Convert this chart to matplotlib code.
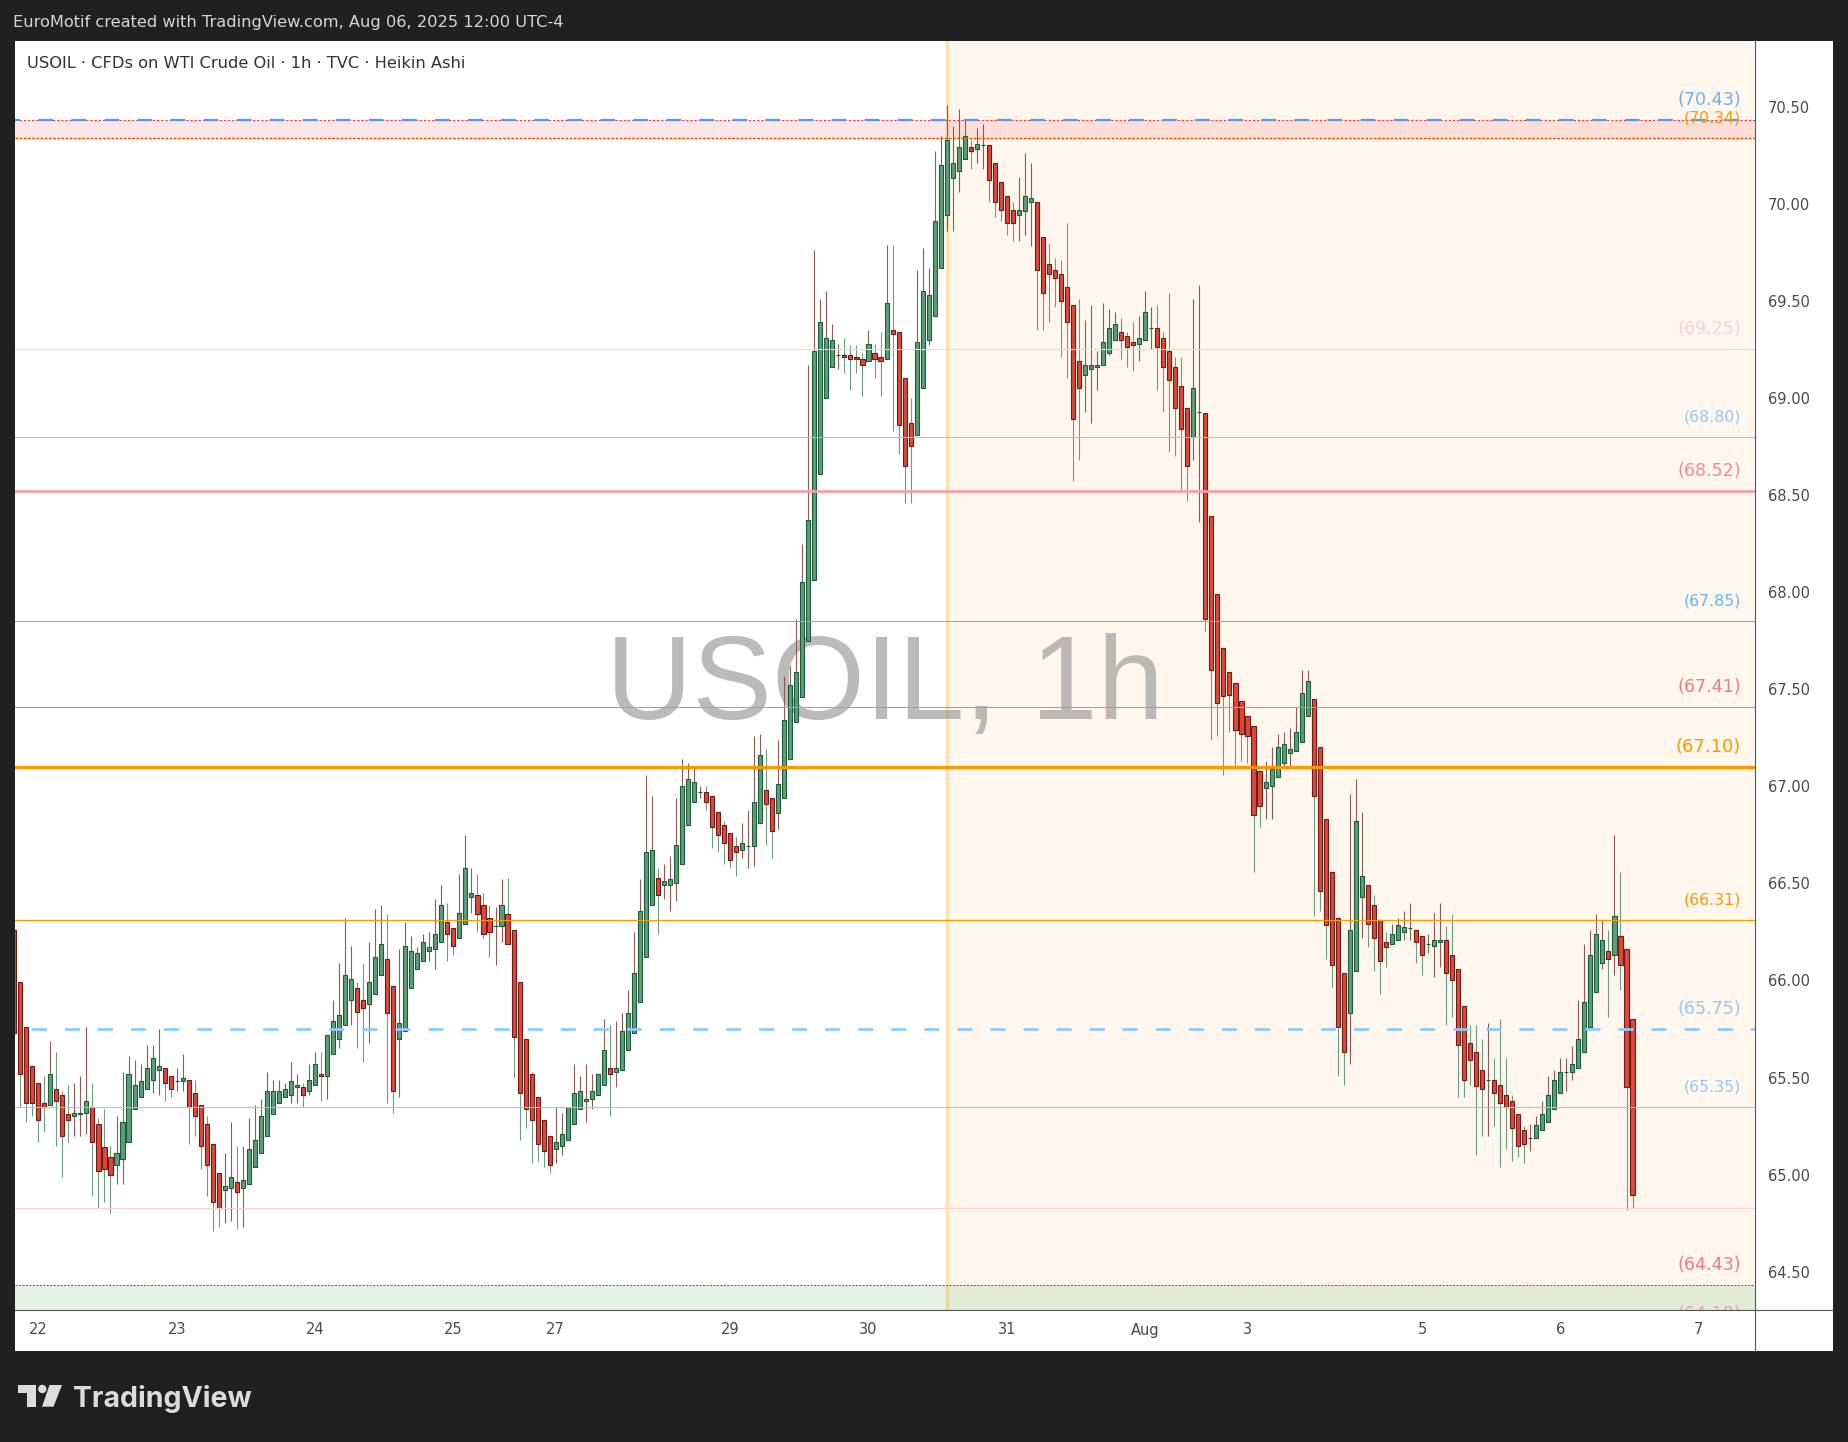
import numpy as np
import pandas as pd
import matplotlib
matplotlib.use("Agg")
import matplotlib.pyplot as plt
from matplotlib.patches import Rectangle, Polygon, Ellipse
from matplotlib.lines import Line2D
import matplotlib.transforms as mtransforms

plt.rcParams['font.family'] = ['DejaVu Sans']
plt.rcParams['lines.scale_dashes'] = False

# USOIL 1h Heikin Ashi candles, first bar 21 Jul 20:00 (UTC-4), last bar 6 Aug 12:00
opens = [
    66.26, 65.99, 65.76, 65.56,
    65.47, 65.37, 65.36, 65.44, 65.41, 65.31, 65.30, 65.31, 65.32, 65.35,
    65.26, 65.14, 65.09, 65.05, 65.08, 65.17, 65.34, 65.40, 65.44, 65.49,
    65.54, 65.55, 65.51, 65.48, 65.48, 65.49, 65.42, 65.36, 65.26, 65.16,
    65.01, 64.92, 64.93, 64.96, 64.93, 64.95, 65.04, 65.11, 65.20, 65.31,
    65.37, 65.40, 65.41, 65.45, 65.45, 65.43, 65.46, 65.52, 65.51, 65.62,
    65.70, 65.77, 65.90, 65.96, 65.90, 65.88, 65.93, 66.03, 66.11, 65.97,
    65.70, 65.74, 65.96, 66.06, 66.10, 66.15, 66.16, 66.20, 66.30, 66.27,
    66.22, 66.29, 66.43, 66.44, 66.39, 66.32, 66.28, 66.28, 66.34, 66.26,
    65.99, 65.70, 65.52, 65.40, 65.28, 65.20, 65.13, 65.15, 65.18, 65.26,
    65.34, 65.38, 65.39, 65.41, 65.46, 65.55, 65.53, 65.54, 65.64, 65.73,
    65.89, 66.12, 66.39, 66.53, 66.49, 66.49, 66.50, 66.60, 66.80, 66.92,
    66.97, 66.97, 66.95, 66.87, 66.80, 66.76, 66.69, 66.67, 66.69, 66.69,
    66.81, 66.98, 66.94, 66.86, 66.94, 67.14, 67.33, 67.46, 67.75, 68.06,
    68.61, 69.00, 69.16, 69.22, 69.22, 69.22, 69.21, 69.20, 69.19, 69.23,
    69.21, 69.20, 69.35, 69.34, 69.10, 68.87, 68.81, 69.05, 69.30, 69.42,
    69.67, 69.94, 70.13, 70.17, 70.23, 70.29, 70.28, 70.30, 70.30, 70.21,
    70.11, 70.04, 69.97, 69.94, 69.96, 70.01, 70.01, 69.83, 69.69, 69.66,
    69.64, 69.57, 69.48, 69.19, 69.12, 69.15, 69.16, 69.17, 69.23, 69.30,
    69.34, 69.32, 69.29, 69.28, 69.30, 69.36, 69.36, 69.31, 69.24, 69.16,
    69.06, 68.95, 68.80, 68.93, 68.92, 68.39, 67.99, 67.71, 67.59, 67.53,
    67.44, 67.36, 67.31, 67.08, 66.99, 67.00, 67.05, 67.12, 67.17, 67.18,
    67.23, 67.36, 67.45, 67.20, 66.83, 66.56, 66.32, 66.04, 65.83, 66.05,
    66.43, 66.49, 66.39, 66.31, 66.20, 66.19, 66.21, 66.25, 66.27, 66.26,
    66.23, 66.19, 66.18, 66.20, 66.21, 66.13, 66.06, 65.87, 65.68, 65.63,
    65.54, 65.49, 65.49, 65.46, 65.41, 65.38, 65.31, 65.23, 65.19, 65.19,
    65.23, 65.27, 65.34, 65.42, 65.53, 65.53, 65.55, 65.63, 65.76, 65.94,
    66.09, 66.15, 66.13, 66.23, 66.16, 65.80,
]
highs = [
    66.30, 65.99, 65.76, 65.56,
    65.47, 65.51, 65.69, 65.63, 65.43, 65.46, 65.47, 65.51, 65.76, 65.47,
    65.29, 65.34, 65.15, 65.30, 65.53, 65.61, 65.59, 65.57, 65.67, 65.67,
    65.75, 65.55, 65.51, 65.55, 65.62, 65.49, 65.49, 65.36, 65.30, 65.16,
    65.01, 65.11, 65.27, 65.15, 65.15, 65.29, 65.36, 65.39, 65.53, 65.49,
    65.49, 65.47, 65.58, 65.52, 65.47, 65.57, 65.63, 65.63, 65.72, 65.90,
    66.09, 66.32, 66.18, 65.99, 66.09, 66.20, 66.37, 66.39, 66.34, 65.97,
    66.16, 66.30, 66.23, 66.17, 66.24, 66.25, 66.42, 66.49, 66.40, 66.27,
    66.55, 66.75, 66.58, 66.55, 66.45, 66.39, 66.38, 66.52, 66.53, 66.26,
    65.99, 65.70, 65.53, 65.40, 65.28, 65.20, 65.35, 65.32, 65.35, 65.57,
    65.51, 65.57, 65.52, 65.52, 65.80, 65.77, 65.79, 65.83, 65.95, 66.25,
    66.52, 67.06, 66.95, 66.58, 66.60, 66.64, 66.94, 67.14, 67.12, 67.10,
    67.00, 67.00, 66.95, 66.87, 66.82, 66.76, 66.74, 66.81, 66.88, 67.26,
    67.27, 67.19, 66.94, 67.24, 67.57, 67.62, 67.86, 68.25, 69.17, 69.76,
    69.51, 69.55, 69.38, 69.28, 69.31, 69.27, 69.27, 69.23, 69.35, 69.28,
    69.34, 69.79, 69.79, 69.34, 69.10, 69.00, 69.66, 69.77, 69.67, 70.27,
    70.35, 70.51, 70.40, 70.49, 70.43, 70.33, 70.39, 70.41, 70.30, 70.21,
    70.11, 70.04, 70.01, 70.14, 70.26, 70.21, 70.01, 69.83, 69.80, 69.72,
    69.71, 69.90, 69.48, 69.51, 69.40, 69.48, 69.24, 69.49, 69.46, 69.44,
    69.41, 69.34, 69.39, 69.42, 69.55, 69.47, 69.48, 69.34, 69.54, 69.21,
    69.21, 68.95, 69.51, 69.58, 68.92, 68.39, 67.99, 67.71, 67.59, 67.53,
    67.44, 67.36, 67.31, 67.08, 67.13, 67.20, 67.27, 67.28, 67.30, 67.41,
    67.60, 67.60, 67.45, 67.20, 66.83, 66.56, 66.32, 66.04, 66.96, 67.04,
    66.87, 66.49, 66.44, 66.31, 66.25, 66.29, 66.32, 66.36, 66.40, 66.26,
    66.23, 66.24, 66.35, 66.40, 66.28, 66.34, 66.06, 65.87, 65.77, 65.77,
    65.70, 65.78, 65.60, 65.80, 65.60, 65.41, 65.31, 65.25, 65.26, 65.30,
    65.38, 65.51, 65.54, 65.60, 65.60, 65.66, 65.90, 66.19, 66.26, 66.34,
    66.31, 66.26, 66.75, 66.56, 66.16, 65.80,
]
lows = [
    65.70, 65.35, 65.27, 65.30,
    65.17, 65.22, 65.36, 65.15, 64.99, 65.17, 65.20, 65.20, 65.21, 64.89,
    64.83, 64.86, 64.80, 64.95, 64.95, 65.17, 65.34, 65.40, 65.44, 65.42,
    65.41, 65.38, 65.40, 65.43, 65.43, 65.16, 65.20, 65.03, 64.89, 64.71,
    64.73, 64.75, 64.76, 64.72, 64.73, 64.95, 65.04, 65.11, 65.20, 65.31,
    65.37, 65.40, 65.37, 65.37, 65.35, 65.41, 65.46, 65.38, 65.39, 65.62,
    65.65, 65.77, 65.77, 65.65, 65.58, 65.68, 65.93, 66.03, 65.37, 65.32,
    65.40, 65.74, 65.96, 66.06, 66.10, 66.10, 66.06, 66.20, 66.10, 66.13,
    66.22, 66.29, 66.35, 66.25, 66.22, 66.12, 66.08, 66.20, 66.20, 65.50,
    65.18, 65.24, 65.06, 65.07, 65.04, 65.01, 65.06, 65.10, 65.18, 65.26,
    65.34, 65.27, 65.34, 65.41, 65.46, 65.30, 65.45, 65.54, 65.64, 65.73,
    65.89, 66.12, 66.39, 66.24, 66.42, 66.36, 66.41, 66.60, 66.80, 66.92,
    66.94, 66.88, 66.68, 66.66, 66.60, 66.58, 66.54, 66.63, 66.58, 66.59,
    66.81, 66.70, 66.63, 66.78, 66.94, 67.14, 67.33, 67.46, 67.75, 68.06,
    68.61, 69.00, 69.16, 69.15, 69.13, 69.04, 69.13, 69.01, 69.19, 69.10,
    69.01, 69.20, 68.83, 68.71, 68.46, 68.46, 68.81, 69.05, 69.27, 69.42,
    69.67, 69.86, 69.86, 70.06, 70.23, 70.18, 70.21, 70.18, 70.01, 69.93,
    69.91, 69.84, 69.81, 69.81, 69.84, 69.78, 69.35, 69.35, 69.39, 69.47,
    69.21, 69.10, 68.57, 68.68, 68.93, 68.87, 69.04, 69.17, 69.22, 69.30,
    69.20, 69.16, 69.14, 69.19, 69.30, 69.25, 69.04, 68.93, 68.72, 68.70,
    68.52, 68.47, 68.68, 68.36, 67.80, 67.24, 67.26, 67.06, 67.28, 67.10,
    67.13, 67.12, 66.56, 66.79, 66.83, 66.83, 67.05, 67.10, 67.10, 67.18,
    67.23, 67.36, 66.33, 66.36, 66.11, 65.96, 65.51, 65.46, 65.57, 66.05,
    66.22, 66.17, 66.05, 65.93, 66.07, 66.19, 66.21, 66.21, 66.21, 66.09,
    66.03, 66.14, 66.02, 66.07, 65.77, 65.81, 65.40, 65.40, 65.46, 65.10,
    65.20, 65.20, 65.25, 65.04, 65.13, 65.07, 65.09, 65.06, 65.12, 65.19,
    65.23, 65.27, 65.34, 65.42, 65.43, 65.49, 65.55, 65.63, 65.76, 65.94,
    66.06, 65.81, 66.03, 65.95, 64.82, 64.83,
]
closes = [
    65.73, 65.52, 65.37, 65.37,
    65.28, 65.35, 65.52, 65.38, 65.20, 65.28, 65.32, 65.32, 65.38, 65.17,
    65.02, 65.03, 65.00, 65.11, 65.27, 65.52, 65.46, 65.48, 65.55, 65.60,
    65.56, 65.47, 65.44, 65.48, 65.50, 65.35, 65.30, 65.15, 65.05, 64.86,
    64.83, 64.94, 64.99, 64.91, 64.97, 65.13, 65.18, 65.30, 65.43, 65.43,
    65.43, 65.44, 65.48, 65.46, 65.41, 65.49, 65.57, 65.51, 65.72, 65.79,
    65.82, 66.03, 66.01, 65.84, 65.86, 65.99, 66.12, 66.19, 65.83, 65.43,
    65.78, 66.18, 66.15, 66.14, 66.20, 66.17, 66.24, 66.39, 66.24, 66.18,
    66.35, 66.58, 66.45, 66.34, 66.24, 66.25, 66.28, 66.39, 66.19, 65.71,
    65.42, 65.34, 65.28, 65.16, 65.12, 65.05, 65.17, 65.21, 65.35, 65.42,
    65.43, 65.39, 65.43, 65.52, 65.64, 65.52, 65.55, 65.74, 65.83, 66.04,
    66.36, 66.66, 66.67, 66.44, 66.51, 66.52, 66.70, 67.00, 67.04, 67.02,
    66.97, 66.92, 66.79, 66.75, 66.71, 66.62, 66.66, 66.71, 66.69, 66.92,
    67.16, 66.91, 66.77, 67.01, 67.34, 67.52, 67.59, 68.05, 68.37, 69.24,
    69.39, 69.31, 69.30, 69.22, 69.21, 69.20, 69.20, 69.17, 69.28, 69.20,
    69.19, 69.49, 69.33, 68.86, 68.65, 68.75, 69.29, 69.55, 69.53, 69.91,
    70.20, 70.33, 70.21, 70.29, 70.35, 70.27, 70.31, 70.30, 70.12, 70.01,
    69.97, 69.90, 69.90, 69.97, 70.04, 70.03, 69.66, 69.54, 69.64, 69.62,
    69.50, 69.39, 68.89, 69.05, 69.17, 69.17, 69.17, 69.29, 69.36, 69.38,
    69.30, 69.26, 69.27, 69.31, 69.44, 69.36, 69.26, 69.16, 69.09, 68.95,
    68.84, 68.65, 69.05, 68.93, 67.86, 67.60, 67.43, 67.465, 67.47, 67.29,
    67.27, 67.26, 66.85, 66.90, 67.02, 67.09, 67.20, 67.22, 67.19, 67.28,
    67.48, 67.54, 66.95, 66.46, 66.285, 66.08, 65.76, 65.63, 66.26, 66.82,
    66.54, 66.29, 66.22, 66.10, 66.17, 66.24, 66.285, 66.275, 66.27, 66.20,
    66.13, 66.19, 66.21, 66.21, 66.04, 66.00, 65.67, 65.49, 65.59, 65.456,
    65.44, 65.49, 65.42, 65.37, 65.35, 65.24, 65.15, 65.16, 65.19, 65.255,
    65.31, 65.41, 65.49, 65.53, 65.53, 65.57, 65.70, 65.89, 66.13, 66.24,
    66.21, 66.11, 66.33, 66.08, 65.45, 64.895,
]

# horizontal levels drawn on the chart
level_prices = [70.43, 70.34, 69.25, 68.80, 68.52, 67.85, 67.41, 67.10, 66.31, 65.75, 65.35, 64.83, 64.43]
# price tags shown above the levels
tag_prices = [70.43, 70.34, 69.25, 68.80, 68.52, 67.85, 67.41, 67.10, 66.31, 65.75, 65.35, 64.43, 64.18]
# shaded zones (low, high)
red_zone = (70.34, 70.43)
green_zone = (64.18, 64.43)
highlight_start = "2025-07-30 13:00"

header = "EuroMotif created with TradingView.com, Aug 06, 2025 12:00 UTC-4"
title = "USOIL \u00b7 CFDs on WTI Crude Oil \u00b7 1h \u00b7 TVC \u00b7 Heikin Ashi"
watermark = "USOIL, 1h"

# ---- session timeline (CFD trades 18:00 - 17:00, closed on weekends)
hours = pd.date_range("2025-07-21 20:00", "2025-08-07 12:00", freq="h")
timeline = [t for t in hours
            if t.hour != 17 and t.weekday() != 5
            and not (t.weekday() == 4 and t.hour > 17)
            and not (t.weekday() == 6 and t.hour < 18)]

n = len(opens)
o = np.array(opens); h = np.array(highs); l = np.array(lows); c = np.array(closes)
x = np.arange(n)

W, H = 1848, 1442
def fx(px):
    return px / W
def fy(py):
    return 1 - py / H

fig = plt.figure(figsize=(W / 100, H / 100), dpi=100, facecolor='#202020')
fig.add_artist(Rectangle((fx(15), fy(1351)), fx(1833) - fx(15), fy(41) - fy(1351),
                         transform=fig.transFigure, facecolor='white', edgecolor='none', zorder=-10))

ax = fig.add_axes([fx(15), fy(1310), fx(1755) - fx(15), fy(41) - fy(1310)])
ax.set_facecolor('white')
ax.set_xlim(0.126, 289.36)
ax.set_ylim(64.303, 70.838)
for s in ax.spines.values():
    s.set_visible(False)

# highlighted session + vertical marker
xv = timeline.index(pd.Timestamp(highlight_start))
ax.axvspan(xv, 300, color='#ff9800', alpha=0.07, lw=0, zorder=0.2)
ax.axvline(xv, color='#ffe0b2', lw=2.3, zorder=0.3)

# zones
ax.axhspan(*red_zone, color='#f23645', alpha=0.12, lw=0, zorder=0.4)
ax.axhspan(*green_zone, color='#66bb6a', alpha=0.18, lw=0, zorder=0.4)

# watermark
ax.text(0.5, 0.4657, watermark, transform=ax.transAxes, ha='center', va='baseline',
        fontsize=86, color='#9e9e9e', alpha=0.7, family='Liberation Sans', zorder=0.5)

# candles
up = c >= o
ax.vlines(x, l, h, colors=np.where(up, '#8e5a52', '#6f9b82'), lw=0.8, zorder=3)
ax.bar(x, np.abs(c - o), bottom=np.minimum(o, c), width=0.68,
       color=np.where(up, '#5b9e78', '#d84a3b'),
       edgecolor=np.where(up, '#1f5a3a', '#701c16'), linewidth=0.8, zorder=4)

# level lines
level_colors = ['#5f97e0', '#e65100', '#ffcdd2', '#90caf9', '#f7a1a5', '#64b5f6',
                '#f77c80', '#ff9800', '#ff9800', '#90caf9', '#90caf9', '#ffcdd2', '#f23645']
level_widths = [1.6, 1.0, 0.75, 0.75, 2.0, 0.75, 0.75, 2.3, 0.8, 2.0, 0.75, 0.75, 0.8]
level_styles = [(7, (10.6, 13.2)), (0, (2.0, 1.0)), '-', '-', '-', '-',
                '-', '-', '-', (12, (10.8, 13.0)), '-', '-', (0, (1.5, 1.0))]
ax.axhline(level_prices[0], color='#f23645', lw=0.75, ls=(0, (1.5, 1.5)), zorder=5)
for p, col, lw, ls in zip(level_prices, level_colors, level_widths, level_styles):
    ax.axhline(p, color=col, lw=lw, ls=ls, zorder=5)

# price tags
tag_colors = ['#64b5f6', '#ff9800', '#ffcdd2', '#90caf9', '#f48a8f', '#64b5f6',
              '#f07a7e', '#ff9800', '#ff9800', '#90caf9', '#90caf9', '#f07a7e', '#f4a0a4']
tag_sizes = [12.6, 11.3, 12.6, 11.3, 12.6, 11.3, 12.6, 13, 11.3, 12.6, 11.3, 12.6, 12.6]
tr = mtransforms.blended_transform_factory(ax.transAxes, ax.transData)
for p, col, fs in zip(tag_prices, tag_colors, tag_sizes):
    ax.text(0.992, p + 0.103, f"({p:.2f})", transform=tr, ha='right', va='center',
            fontsize=fs, color=col, zorder=6, clip_on=True)

# axes ticks
ax.yaxis.tick_right()
yt = np.arange(64.5, 70.51, 0.5)
ax.set_yticks(yt)
ax.set_yticklabels([f"{v:.2f}" for v in yt])
ticks, labels = [], []
for i in range(1, len(timeline)):
    if timeline[i].date() != timeline[i - 1].date():
        if ticks and i - ticks[-1] < 12:
            continue
        ticks.append(i)
        d = timeline[i]
        labels.append(d.strftime('%b') if d.day == 1 else str(d.day))
ax.set_xticks(ticks)
ax.set_xticklabels(labels)
ax.tick_params(axis='y', length=0, pad=9.4, labelsize=10.5, labelcolor='#4a4a4a')
ax.tick_params(axis='x', length=0, pad=9, labelsize=10.5, labelcolor='#4a4a4a')

# frame lines of the chart pane
fig.add_artist(Line2D([fx(1755), fx(1755)], [fy(41), fy(1351)], transform=fig.transFigure,
                      color='#555555', lw=0.8, zorder=10))
fig.add_artist(Line2D([fx(15), fx(1833)], [fy(1310), fy(1310)], transform=fig.transFigure,
                      color='#555555', lw=0.8, zorder=10))

# header and title
fig.text(fx(13), fy(23), header, ha='left', va='center', fontsize=11.7,
         family='DejaVu Sans', color='#d6d6d6')
fig.text(fx(27), fy(64), title, ha='left', va='center', fontsize=11.7,
         family='DejaVu Sans', color='#333333')

# TradingView logo
logo = '#dcdcdc'
fig.add_artist(Polygon([(fx(18.3), fy(1385)), (fx(36), fy(1385)), (fx(36), fy(1406.7)),
                        (fx(26.7), fy(1406.7)), (fx(26.7), fy(1393.3)), (fx(18.3), fy(1393.3))],
                       closed=True, transform=fig.transFigure, facecolor=logo, edgecolor='none'))
fig.add_artist(Ellipse((fx(42.3), fy(1389)), 8.4 / W, 8.4 / H, transform=fig.transFigure,
                       facecolor=logo, edgecolor='none'))
fig.add_artist(Polygon([(fx(49.5), fy(1385)), (fx(62), fy(1385)), (fx(53.5), fy(1406.7)),
                        (fx(42), fy(1406.7))], closed=True, transform=fig.transFigure,
                       facecolor=logo, edgecolor='none'))
fig.text(fx(73), fy(1406.7), "TradingView", ha='left', va='baseline', fontsize=20.5,
         family='Inter', weight='bold', color=logo)

fig.savefig('out.png', dpi=100, facecolor=fig.get_facecolor())
